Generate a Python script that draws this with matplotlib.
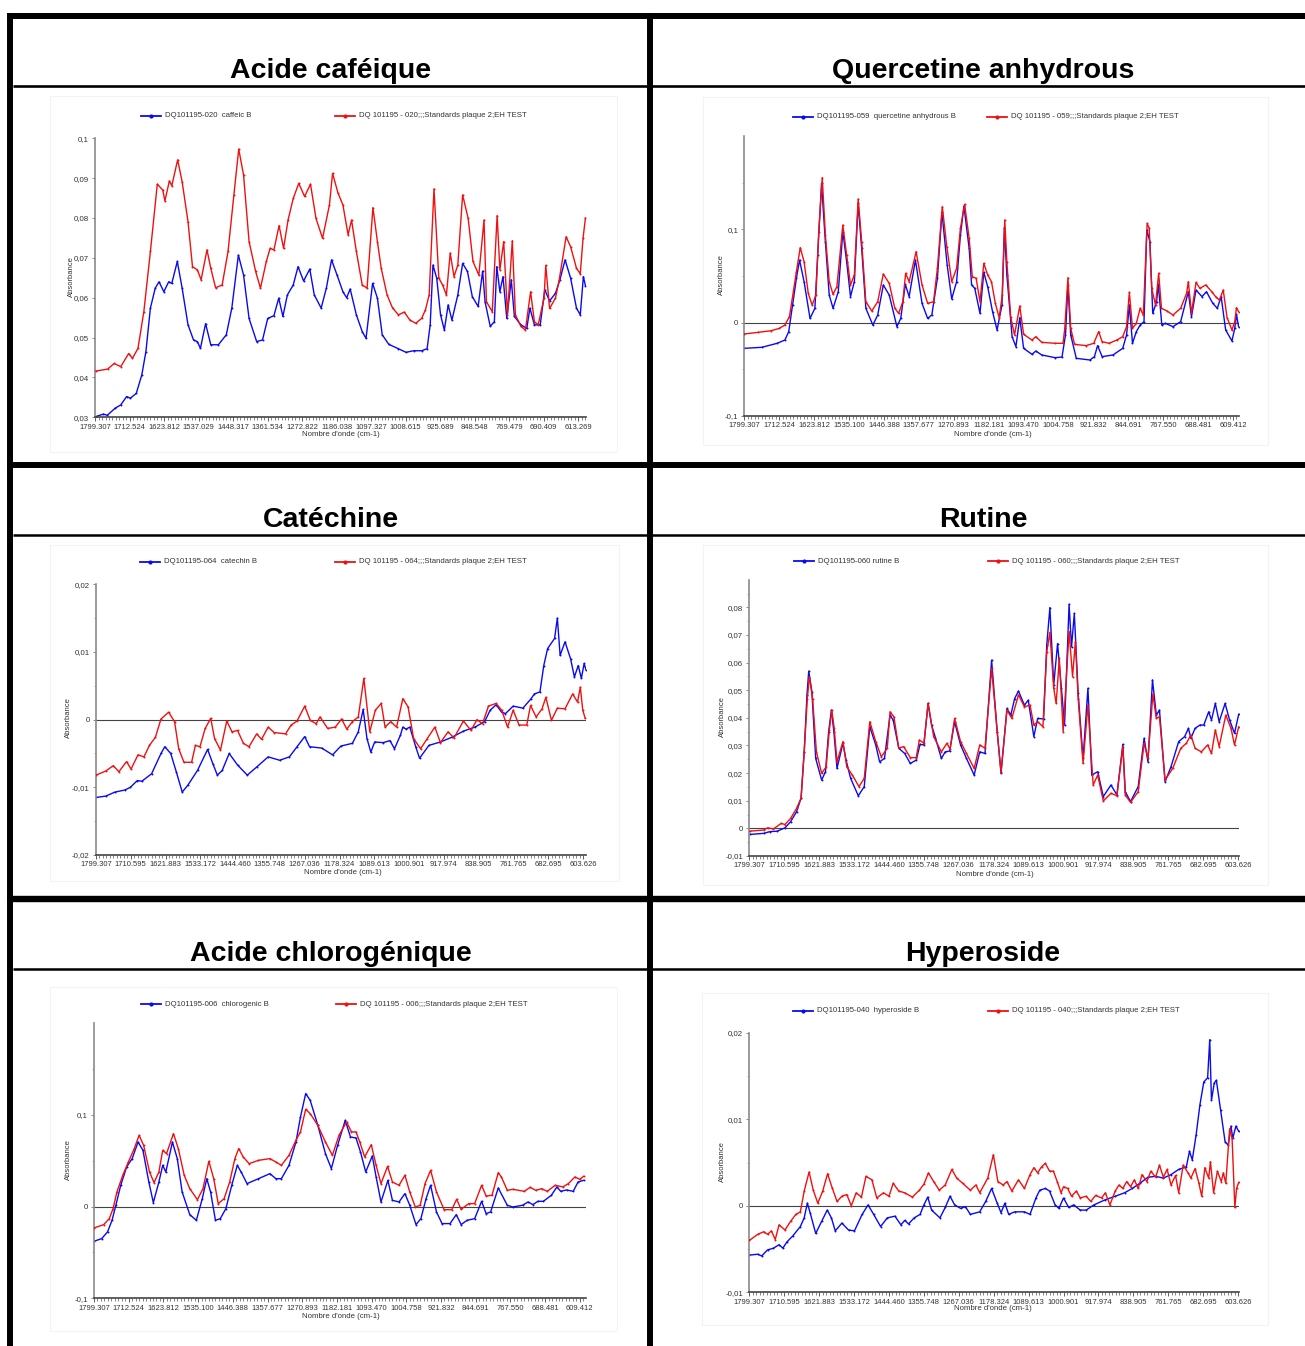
import matplotlib.pyplot as plt
from matplotlib.lines import Line2D
from matplotlib.patches import Rectangle
from matplotlib.ticker import MultipleLocator, FixedLocator

W, H = 1305, 1346
plt.rcParams['font.family'] = ['Liberation Sans', 'DejaVu Sans']

# x values are positions in label steps (0 = first tick label, 14 = last one)
ticks_a = ["1799.307", "1712.524", "1623.812", "1537.029", "1448.317", "1361.534", "1272.822", "1186.038",
           "1097.327", "1008.615", "925.689", "848.548", "769.479", "690.409", "613.269"]
ticks_b = ["1799.307", "1712.524", "1623.812", "1535.100", "1446.388", "1357.677", "1270.893", "1182.181",
           "1093.470", "1004.758", "921.832", "844.691", "767.550", "688.481", "609.412"]
ticks_c = ["1799.307", "1710.595", "1621.883", "1533.172", "1444.460", "1355.748", "1267.036", "1178.324",
           "1089.613", "1000.901", "917.974", "838.905", "761.765", "682.695", "603.626"]

# --- Acide caféique
caf_red_x = [0.02, 0.36, 0.55, 0.74, 0.97, 1.08, 1.24, 1.41, 1.60, 1.80, 1.96, 2.02, 2.15, 2.22, 2.39, 2.52, 2.69, 2.82,
             2.96, 3.07, 3.24, 3.35, 3.49, 3.68, 3.85, 4.02, 4.16, 4.30, 4.46, 4.65, 4.79, 4.96, 5.07, 5.18, 5.33, 5.46,
             5.59, 5.74, 5.90, 6.07, 6.24, 6.40, 6.59, 6.79, 6.88, 7.04, 7.18, 7.33, 7.43, 7.57, 7.74, 7.88, 8.05, 8.18,
             8.29, 8.46, 8.62, 8.79, 8.96, 9.12, 9.29, 9.46, 9.57, 9.68, 9.82, 9.96, 10.07, 10.18, 10.29, 10.40, 10.51,
             10.65, 10.81, 10.95, 11.12, 11.27, 11.34, 11.51, 11.65, 11.73, 11.84, 11.95, 12.09, 12.18, 12.34, 12.47,
             12.62, 12.73, 12.84, 13.01, 13.06, 13.17, 13.34, 13.45, 13.65, 13.78, 13.95, 14.06, 14.14, 14.21]
caf_red_y = [0.0416, 0.0421, 0.0435, 0.0427, 0.0460, 0.0448, 0.0473, 0.0565, 0.0716, 0.0885, 0.0870, 0.0843, 0.0893,
             0.0881, 0.0946, 0.0891, 0.0791, 0.0678, 0.0670, 0.0645, 0.0720, 0.0674, 0.0625, 0.0632, 0.0716, 0.0858,
             0.0973, 0.0908, 0.0741, 0.0666, 0.0624, 0.0691, 0.0724, 0.0720, 0.0781, 0.0724, 0.0795, 0.0849, 0.0887,
             0.0854, 0.0885, 0.0799, 0.0749, 0.0833, 0.0912, 0.0862, 0.0833, 0.0758, 0.0795, 0.0716, 0.0632, 0.0624,
             0.0826, 0.0741, 0.0674, 0.0607, 0.0574, 0.0557, 0.0564, 0.0544, 0.0536, 0.0548, 0.0569, 0.0607, 0.0873,
             0.0649, 0.0632, 0.0607, 0.0712, 0.0653, 0.0682, 0.0858, 0.0799, 0.0691, 0.0657, 0.0795, 0.0590, 0.0565,
             0.0806, 0.0670, 0.0741, 0.0557, 0.0743, 0.0557, 0.0528, 0.0519, 0.0615, 0.0540, 0.0532, 0.0599, 0.0681,
             0.0573, 0.0599, 0.0645, 0.0753, 0.0728, 0.0674, 0.0660, 0.0749, 0.0800]
caf_blue_x = [0.02, 0.24, 0.35, 0.58, 0.74, 0.91, 1.02, 1.19, 1.35, 1.47, 1.60, 1.74, 1.85, 1.99, 2.13, 2.22, 2.38, 2.52,
              2.69, 2.85, 2.96, 3.05, 3.20, 3.35, 3.57, 3.80, 3.96, 4.15, 4.30, 4.46, 4.68, 4.85, 5.00, 5.18, 5.32, 5.44,
              5.57, 5.74, 5.88, 6.04, 6.22, 6.35, 6.55, 6.70, 6.85, 7.01, 7.18, 7.29, 7.39, 7.57, 7.74, 7.85, 8.04, 8.18,
              8.32, 8.51, 8.79, 9.01, 9.23, 9.46, 9.62, 9.71, 9.79, 9.90, 10.01, 10.12, 10.23, 10.34, 10.51, 10.65,
              10.79, 10.93, 11.10, 11.23, 11.30, 11.45, 11.57, 11.64, 11.73, 11.82, 11.93, 12.06, 12.15, 12.34, 12.51,
              12.60, 12.73, 12.90, 13.03, 13.17, 13.34, 13.47, 13.62, 13.78, 13.95, 14.06, 14.15, 14.21]
caf_blue_y = [0.0302, 0.0308, 0.0305, 0.0323, 0.0331, 0.0352, 0.0348, 0.0360, 0.0406, 0.0465, 0.0574, 0.0624, 0.0640,
              0.0615, 0.0640, 0.0636, 0.0691, 0.0624, 0.0532, 0.0494, 0.0490, 0.0473, 0.0535, 0.0482, 0.0482, 0.0507,
              0.0574, 0.0707, 0.0657, 0.0548, 0.0490, 0.0494, 0.0548, 0.0555, 0.0599, 0.0553, 0.0607, 0.0632, 0.0678,
              0.0642, 0.0672, 0.0607, 0.0574, 0.0624, 0.0695, 0.0657, 0.0615, 0.0600, 0.0622, 0.0557, 0.0515, 0.0498,
              0.0636, 0.0599, 0.0507, 0.0483, 0.0472, 0.0463, 0.0467, 0.0467, 0.0472, 0.0532, 0.0682, 0.0649, 0.0557,
              0.0519, 0.0582, 0.0544, 0.0607, 0.0686, 0.0666, 0.0603, 0.0578, 0.0667, 0.0590, 0.0528, 0.0540, 0.0678,
              0.0615, 0.0653, 0.0548, 0.0645, 0.0553, 0.0532, 0.0523, 0.0574, 0.0532, 0.0532, 0.0620, 0.0592, 0.0611,
              0.0645, 0.0695, 0.0649, 0.0574, 0.0557, 0.0653, 0.0630]

# --- Quercetine anhydrous
que_red_x = [0.0, 0.39, 0.77, 1.00, 1.16, 1.29, 1.38, 1.49, 1.60, 1.71, 1.83, 1.94, 2.05, 2.13, 2.23, 2.32, 2.43, 2.54,
             2.65, 2.82, 2.93, 3.04, 3.15, 3.26, 3.36, 3.48, 3.65, 3.82, 3.98, 4.15, 4.31, 4.42, 4.54, 4.62, 4.72, 4.92,
             5.09, 5.25, 5.42, 5.53, 5.67, 5.80, 5.94, 6.08, 6.19, 6.31, 6.44, 6.53, 6.64, 6.75, 6.86, 6.97, 7.08, 7.19,
             7.30, 7.39, 7.46, 7.52, 7.63, 7.74, 7.89, 8.00, 8.24, 8.35, 8.52, 8.90, 9.13, 9.18, 9.27, 9.35, 9.46, 9.79,
             10.01, 10.15, 10.25, 10.45, 10.67, 10.84, 10.95, 11.03, 11.12, 11.23, 11.34, 11.43, 11.54, 11.60, 11.67,
             11.78, 11.87, 11.95, 12.11, 12.28, 12.50, 12.67, 12.72, 12.81, 12.94, 13.05, 13.22, 13.39, 13.50, 13.61,
             13.72, 13.83, 13.97, 14.05, 14.10, 14.16]
que_red_y = [-0.0121, -0.0104, -0.0086, -0.0061, -0.0025, 0.0064, 0.0279, 0.0546, 0.0804, 0.0654, 0.0314, 0.0189,
             0.0296, 0.0975, 0.1554, 0.0939, 0.0439, 0.0304, 0.0386, 0.1046, 0.0725, 0.0404, 0.0511, 0.1325, 0.0868,
             0.0225, 0.0125, 0.0225, 0.0521, 0.0421, 0.0154, 0.0100, 0.0225, 0.0529, 0.0439, 0.0761, 0.0404, 0.0207,
             0.0225, 0.0582, 0.1243, 0.0814, 0.0439, 0.0582, 0.1011, 0.1268, 0.0904, 0.0493, 0.0475, 0.0225, 0.0636,
             0.0511, 0.0439, 0.0207, 0.0054, 0.0296, 0.1100, 0.0654, 0.0064, -0.0132, 0.0179, -0.0125, -0.0186,
             -0.0150, -0.0211, -0.0221, -0.0221, -0.0061, 0.0482, -0.0061, -0.0232, -0.0246, -0.0221, -0.0096,
             -0.0204, -0.0221, -0.0186, -0.0150, -0.0043, 0.0325, -0.0061, -0.0007, 0.0154, 0.0082, 0.1064, 0.1011,
             0.0368, 0.0189, 0.0529, 0.0154, 0.0125, 0.0082, 0.0154, 0.0314, 0.0439, 0.0100, 0.0432, 0.0368, 0.0404,
             0.0332, 0.0279, 0.0243, 0.0350, 0.0054, -0.0079, 0.0011, 0.0161, 0.0118]
que_blue_x = [0.0, 0.50, 0.94, 1.16, 1.27, 1.38, 1.49, 1.58, 1.71, 1.88, 2.02, 2.10, 2.21, 2.32, 2.43, 2.54, 2.69, 2.82,
              2.93, 3.04, 3.15, 3.26, 3.36, 3.48, 3.68, 3.82, 3.98, 4.15, 4.37, 4.48, 4.61, 4.72, 4.90, 5.09, 5.25, 5.37,
              5.53, 5.66, 5.81, 5.94, 6.08, 6.19, 6.29, 6.44, 6.51, 6.60, 6.75, 6.86, 6.97, 7.11, 7.24, 7.38, 7.45, 7.52,
              7.67, 7.78, 7.89, 8.00, 8.24, 8.35, 8.52, 8.90, 9.10, 9.20, 9.27, 9.35, 9.51, 9.90, 10.03, 10.12, 10.25,
              10.56, 10.84, 10.95, 11.03, 11.12, 11.23, 11.34, 11.45, 11.53, 11.62, 11.70, 11.81, 11.86, 11.96, 12.06,
              12.28, 12.50, 12.72, 12.81, 12.94, 13.11, 13.24, 13.42, 13.55, 13.66, 13.79, 13.97, 14.05, 14.10, 14.16]
que_blue_y = [-0.0275, -0.0264, -0.0221, -0.0186, -0.0096, 0.0189, 0.0475, 0.0671, 0.0439, 0.0046, 0.0154, 0.0725,
              0.1493, 0.0868, 0.0296, 0.0154, 0.0332, 0.0975, 0.0654, 0.0279, 0.0439, 0.1279, 0.0796, 0.0154, -0.0025,
              0.0082, 0.0404, 0.0296, -0.0043, 0.0046, 0.0411, 0.0279, 0.0671, 0.0207, 0.0046, 0.0082, 0.0475, 0.1182,
              0.0618, 0.0254, 0.0439, 0.0939, 0.1250, 0.0796, 0.0404, 0.0368, 0.0100, 0.0539, 0.0386, 0.0118, -0.0079,
              0.0189, 0.1018, 0.0511, -0.0150, -0.0257, 0.0054, -0.0275, -0.0339, -0.0304, -0.0346, -0.0375, -0.0368,
              -0.0132, 0.0404, -0.0132, -0.0382, -0.0400, -0.0364, -0.0246, -0.0364, -0.0346, -0.0275, -0.0132, 0.0189,
              -0.0221, -0.0096, -0.0025, 0.0011, 0.0993, 0.0868, 0.0100, 0.0225, 0.0411, -0.0025, -0.0007, -0.0043,
              0.0011, 0.0332, 0.0064, 0.0350, 0.0279, 0.0332, 0.0207, 0.0154, 0.0279, -0.0079, -0.0196, -0.0061, 0.0089,
              -0.0043]

# --- Catéchine
cat_red_x = [0.0, 0.28, 0.50, 0.66, 0.88, 1.01, 1.21, 1.38, 1.54, 1.71, 1.87, 2.09, 2.26, 2.38, 2.53, 2.75, 2.86, 2.99,
             3.14, 3.30, 3.41, 3.58, 3.76, 3.91, 4.07, 4.24, 4.40, 4.62, 4.76, 4.95, 5.12, 5.45, 5.61, 5.78, 6.00, 6.16,
             6.33, 6.44, 6.66, 6.88, 7.06, 7.21, 7.37, 7.54, 7.70, 7.87, 8.03, 8.20, 8.31, 8.47, 8.64, 8.82, 8.97, 9.13,
             9.33, 9.52, 9.74, 9.90, 10.12, 10.29, 10.56, 10.78, 10.95, 11.11, 11.28, 11.50, 11.66, 11.83, 11.99, 12.16,
             12.38, 12.49, 12.65, 12.82, 12.93, 13.09, 13.26, 13.48, 13.70, 13.84, 13.92, 13.99, 14.06]
cat_red_y = [-0.0082, -0.0076, -0.0068, -0.0077, -0.0062, -0.0073, -0.0052, -0.0055, -0.0038, -0.0026, 0.0001, 0.0011,
             -0.0003, -0.0043, -0.0063, -0.0063, -0.0038, -0.0040, -0.0013, 0.0002, -0.0028, -0.0045, -0.0002, -0.0018,
             -0.0016, -0.0035, -0.0040, -0.0021, -0.0029, -0.0011, -0.0019, -0.0021, -0.0008, -0.0002, 0.0020, -0.0001,
             -0.0006, 0.0004, -0.0013, -0.0011, 0.0001, -0.0014, -0.0003, 0.0004, 0.0061, -0.0018, 0.0014, 0.0024,
             -0.0011, -0.0003, -0.0011, 0.0031, 0.0019, -0.0028, -0.0043, -0.0028, -0.0011, -0.0034, -0.0018, -0.0027,
             -0.0002, -0.0016, 0.0000, -0.0006, 0.0020, 0.0024, 0.0014, -0.0011, 0.0014, -0.0008, -0.0008, 0.0021,
             0.0004, 0.0016, 0.0033, -0.0001, 0.0017, 0.0016, 0.0038, 0.0026, 0.0048, 0.0014, 0.0002]
cat_blue_x = [0.0, 0.28, 0.55, 0.83, 0.99, 1.19, 1.32, 1.60, 1.87, 1.98, 2.15, 2.31, 2.48, 2.64, 2.92, 3.21, 3.36, 3.49,
              3.63, 3.83, 4.07, 4.35, 4.62, 4.95, 5.28, 5.56, 5.78, 6.00, 6.14, 6.49, 6.80, 7.04, 7.37, 7.54, 7.68, 7.79,
              7.90, 8.01, 8.25, 8.45, 8.58, 8.75, 8.82, 8.91, 9.02, 9.19, 9.30, 9.57, 9.90, 10.23, 10.56, 10.89, 11.17,
              11.33, 11.50, 11.66, 11.77, 11.99, 12.27, 12.49, 12.60, 12.76, 12.87, 12.98, 13.18, 13.26, 13.34, 13.48,
              13.64, 13.75, 13.86, 13.95, 14.03, 14.08]
cat_blue_y = [-0.0115, -0.0113, -0.0107, -0.0104, -0.0100, -0.0090, -0.0091, -0.0080, -0.0050, -0.0040, -0.0050,
              -0.0077, -0.0107, -0.0097, -0.0075, -0.0044, -0.0065, -0.0082, -0.0075, -0.0050, -0.0067, -0.0082,
              -0.0070, -0.0055, -0.0060, -0.0055, -0.0040, -0.0025, -0.0040, -0.0042, -0.0052, -0.0039, -0.0035,
              -0.0018, 0.0015, -0.0028, -0.0048, -0.0033, -0.0034, -0.0031, -0.0043, -0.0023, -0.0011, -0.0014,
              -0.0011, -0.0040, -0.0057, -0.0038, -0.0033, -0.0026, -0.0017, -0.0011, -0.0003, 0.0014, 0.0022, 0.0011,
              0.0009, 0.0020, 0.0017, 0.0030, 0.0038, 0.0041, 0.0080, 0.0105, 0.0120, 0.0150, 0.0095, 0.0115, 0.0090,
              0.0063, 0.0080, 0.0061, 0.0083, 0.0074]

# --- Rutine
rut_blue_x = [0.02, 0.41, 0.58, 0.80, 1.02, 1.18, 1.35, 1.48, 1.57, 1.65, 1.70, 1.79, 1.90, 2.07, 2.18, 2.27, 2.35, 2.42,
              2.51, 2.68, 2.77, 2.90, 3.12, 3.29, 3.45, 3.62, 3.73, 3.87, 4.03, 4.12, 4.28, 4.45, 4.61, 4.78, 4.89, 5.00,
              5.12, 5.22, 5.33, 5.50, 5.61, 5.74, 5.88, 6.05, 6.22, 6.44, 6.60, 6.75, 6.94, 7.10, 7.21, 7.38, 7.49, 7.60,
              7.71, 7.88, 7.99, 8.15, 8.26, 8.43, 8.52, 8.61, 8.72, 8.83, 8.94, 9.03, 9.16, 9.23, 9.31, 9.42, 9.56, 9.70,
              9.81, 9.98, 10.14, 10.36, 10.53, 10.70, 10.77, 10.92, 11.14, 11.31, 11.42, 11.55, 11.66, 11.75, 11.91,
              12.08, 12.30, 12.47, 12.58, 12.65, 12.77, 12.91, 13.02, 13.16, 13.24, 13.35, 13.46, 13.63, 13.76, 13.90,
              14.02]
rut_blue_y = [-0.0022, -0.0018, -0.0012, -0.0010, 0.0002, 0.0024, 0.0060, 0.0109, 0.0277, 0.0483, 0.0569, 0.0495,
              0.0253, 0.0175, 0.0205, 0.0350, 0.0428, 0.0350, 0.0217, 0.0308, 0.0247, 0.0181, 0.0118, 0.0151, 0.0368,
              0.0302, 0.0241, 0.0253, 0.0410, 0.0392, 0.0290, 0.0271, 0.0235, 0.0247, 0.0304, 0.0302, 0.0452, 0.0374,
              0.0328, 0.0253, 0.0277, 0.0280, 0.0386, 0.0302, 0.0253, 0.0193, 0.0277, 0.0271, 0.0609, 0.0350, 0.0199,
              0.0434, 0.0410, 0.0470, 0.0497, 0.0446, 0.0464, 0.0332, 0.0398, 0.0396, 0.0663, 0.0799, 0.0519, 0.0669,
              0.0507, 0.0374, 0.0811, 0.0657, 0.0778, 0.0489, 0.0253, 0.0507, 0.0193, 0.0205, 0.0115, 0.0157, 0.0121,
              0.0304, 0.0133, 0.0097, 0.0151, 0.0326, 0.0241, 0.0537, 0.0410, 0.0428, 0.0169, 0.0223, 0.0314, 0.0332,
              0.0362, 0.0326, 0.0362, 0.0374, 0.0374, 0.0422, 0.0392, 0.0452, 0.0386, 0.0452, 0.0392, 0.0344, 0.0413]
rut_red_x = [0.02, 0.41, 0.52, 0.69, 0.91, 1.02, 1.18, 1.35, 1.48, 1.57, 1.66, 1.72, 1.81, 1.92, 2.07, 2.20, 2.29, 2.36,
             2.43, 2.51, 2.68, 2.79, 2.95, 3.14, 3.29, 3.45, 3.62, 3.78, 3.95, 4.03, 4.14, 4.28, 4.42, 4.61, 4.78, 4.87,
             5.00, 5.12, 5.28, 5.50, 5.66, 5.75, 5.88, 6.05, 6.22, 6.44, 6.60, 6.75, 6.94, 7.10, 7.21, 7.38, 7.52, 7.71,
             7.88, 8.04, 8.15, 8.26, 8.41, 8.52, 8.61, 8.72, 8.79, 8.88, 8.99, 9.16, 9.26, 9.34, 9.42, 9.56, 9.70, 9.85,
             9.98, 10.14, 10.36, 10.53, 10.70, 10.77, 10.92, 11.14, 11.31, 11.42, 11.56, 11.66, 11.75, 11.91, 12.13,
             12.36, 12.52, 12.65, 12.77, 12.95, 13.13, 13.24, 13.35, 13.46, 13.65, 13.80, 13.90, 14.02]
rut_red_y = [-0.0010, -0.0006, 0.0002, -0.0002, 0.0018, 0.0014, 0.0036, 0.0072, 0.0109, 0.0277, 0.0470, 0.0549, 0.0470,
             0.0277, 0.0199, 0.0223, 0.0356, 0.0428, 0.0362, 0.0241, 0.0314, 0.0223, 0.0193, 0.0151, 0.0181, 0.0386,
             0.0314, 0.0259, 0.0290, 0.0422, 0.0404, 0.0290, 0.0296, 0.0256, 0.0256, 0.0320, 0.0308, 0.0452, 0.0332,
             0.0277, 0.0308, 0.0287, 0.0398, 0.0314, 0.0271, 0.0217, 0.0302, 0.0290, 0.0579, 0.0350, 0.0205, 0.0428,
             0.0398, 0.0483, 0.0440, 0.0446, 0.0374, 0.0386, 0.0368, 0.0639, 0.0709, 0.0507, 0.0452, 0.0615, 0.0350,
             0.0712, 0.0549, 0.0676, 0.0470, 0.0235, 0.0446, 0.0157, 0.0193, 0.0099, 0.0127, 0.0118, 0.0296, 0.0121,
             0.0094, 0.0133, 0.0308, 0.0253, 0.0485, 0.0398, 0.0404, 0.0175, 0.0217, 0.0290, 0.0308, 0.0338, 0.0290,
             0.0277, 0.0302, 0.0271, 0.0356, 0.0296, 0.0410, 0.0362, 0.0302, 0.0368]

# --- Acide chlorogénique
chl_red_x = [0.0, 0.28, 0.44, 0.55, 0.66, 0.83, 0.99, 1.16, 1.30, 1.43, 1.60, 1.73, 1.87, 1.98, 2.09, 2.29, 2.43, 2.60,
             2.76, 2.98, 3.14, 3.31, 3.45, 3.58, 3.75, 3.91, 4.06, 4.17, 4.30, 4.47, 4.74, 5.07, 5.24, 5.40, 5.62, 5.82,
             5.95, 6.10, 6.23, 6.45, 6.67, 6.87, 7.06, 7.28, 7.42, 7.55, 7.66, 7.80, 7.99, 8.13, 8.27, 8.46, 8.60, 8.79,
             8.96, 9.10, 9.26, 9.40, 9.54, 9.70, 9.87, 10.09, 10.31, 10.45, 10.58, 10.80, 10.97, 11.17, 11.30, 11.47,
             11.65, 11.74, 11.91, 12.07, 12.40, 12.57, 12.73, 12.90, 13.06, 13.29, 13.51, 13.67, 13.86, 14.00, 14.11]
chl_red_y = [-0.0233, -0.0196, -0.0131, -0.0022, 0.0160, 0.0342, 0.0487, 0.0633, 0.0778, 0.0669, 0.0378, 0.0262,
             0.0378, 0.0615, 0.0578, 0.0796, 0.0633, 0.0342, 0.0196, 0.0076, 0.0196, 0.0495, 0.0305, 0.0033, 0.0087,
             0.0269, 0.0524, 0.0633, 0.0542, 0.0469, 0.0505, 0.0524, 0.0487, 0.0451, 0.0560, 0.0724, 0.0815, 0.1062,
             0.1015, 0.0887, 0.0705, 0.0560, 0.0778, 0.0924, 0.0815, 0.0815, 0.0705, 0.0542, 0.0676, 0.0451, 0.0251,
             0.0440, 0.0269, 0.0233, 0.0342, 0.0160, -0.0004, 0.0015, 0.0251, 0.0396, 0.0160, -0.0033, -0.0033, 0.0080,
             -0.0029, 0.0033, 0.0033, 0.0233, 0.0116, 0.0124, 0.0371, 0.0324, 0.0178, 0.0189, 0.0167, 0.0211, 0.0178,
             0.0196, 0.0167, 0.0233, 0.0215, 0.0251, 0.0324, 0.0298, 0.0331]
chl_blue_x = [0.0, 0.22, 0.39, 0.52, 0.63, 0.77, 0.94, 1.10, 1.27, 1.41, 1.58, 1.71, 1.87, 1.98, 2.07, 2.26, 2.40, 2.54,
              2.76, 2.95, 3.12, 3.25, 3.36, 3.50, 3.64, 3.80, 3.97, 4.13, 4.24, 4.41, 4.74, 5.07, 5.24, 5.40, 5.62, 5.82,
              5.95, 6.10, 6.23, 6.45, 6.67, 6.84, 7.02, 7.24, 7.39, 7.55, 7.68, 7.83, 8.02, 8.13, 8.27, 8.47, 8.60, 8.79,
              8.96, 9.10, 9.28, 9.42, 9.57, 9.70, 9.87, 10.03, 10.26, 10.44, 10.58, 10.75, 10.97, 11.17, 11.30, 11.43,
              11.65, 11.91, 12.07, 12.35, 12.51, 12.65, 12.79, 12.95, 13.18, 13.34, 13.45, 13.62, 13.81, 13.95, 14.11]
chl_blue_y = [-0.0378, -0.0349, -0.0276, -0.0149, 0.0015, 0.0233, 0.0433, 0.0524, 0.0705, 0.0615, 0.0269, 0.0044,
              0.0269, 0.0451, 0.0378, 0.0705, 0.0524, 0.0160, -0.0087, -0.0149, 0.0087, 0.0305, 0.0160, -0.0149,
              -0.0131, -0.0022, 0.0233, 0.0451, 0.0378, 0.0251, 0.0305, 0.0360, 0.0305, 0.0305, 0.0451, 0.0705, 0.0978,
              0.1233, 0.1160, 0.0887, 0.0578, 0.0415, 0.0669, 0.0942, 0.0760, 0.0749, 0.0596, 0.0378, 0.0553, 0.0324,
              0.0051, 0.0287, 0.0069, 0.0051, 0.0142, 0.0015, -0.0196, -0.0131, 0.0087, 0.0233, -0.0058, -0.0185,
              -0.0185, -0.0087, -0.0196, -0.0149, -0.0131, 0.0058, -0.0076, -0.0058, 0.0204, 0.0015, -0.0004, 0.0015,
              0.0051, 0.0022, 0.0058, 0.0058, 0.0124, 0.0215, 0.0167, 0.0182, 0.0167, 0.0269, 0.0287]

# --- Hyperoside
hyp_red_x = [0.0, 0.24, 0.41, 0.52, 0.63, 0.74, 0.85, 1.02, 1.18, 1.33, 1.46, 1.57, 1.71, 1.83, 1.96, 2.10, 2.24, 2.37,
             2.51, 2.65, 2.79, 2.92, 3.06, 3.21, 3.34, 3.51, 3.65, 3.84, 4.00, 4.12, 4.28, 4.45, 4.67, 4.87, 5.00, 5.13,
             5.28, 5.44, 5.61, 5.80, 5.94, 6.11, 6.33, 6.49, 6.60, 6.83, 6.99, 7.12, 7.27, 7.38, 7.52, 7.71, 7.88, 8.04,
             8.15, 8.26, 8.37, 8.48, 8.60, 8.71, 8.82, 8.93, 9.00, 9.12, 9.23, 9.37, 9.48, 9.65, 9.78, 9.92, 10.09,
             10.20, 10.33, 10.48, 10.59, 10.70, 10.81, 10.92, 11.03, 11.14, 11.25, 11.39, 11.50, 11.64, 11.75, 11.86,
             11.97, 12.08, 12.21, 12.30, 12.43, 12.57, 12.65, 12.77, 12.88, 12.96, 13.05, 13.16, 13.21, 13.30, 13.41,
             13.52, 13.58, 13.65, 13.76, 13.83, 13.91, 13.96, 14.02]
hyp_red_y = [-0.0040, -0.0033, -0.0030, -0.0033, -0.0029, -0.0039, -0.0022, -0.0028, -0.0018, -0.0010, -0.0007,
             0.0017, 0.0039, 0.0018, 0.0003, 0.0017, 0.0037, 0.0021, 0.0005, 0.0011, 0.0013, 0.0000, 0.0015, 0.0010,
             0.0034, 0.0030, 0.0009, 0.0015, 0.0011, 0.0026, 0.0017, 0.0015, 0.0010, 0.0018, 0.0025, 0.0038, 0.0028,
             0.0018, 0.0024, 0.0042, 0.0032, 0.0026, 0.0018, 0.0024, 0.0015, 0.0032, 0.0059, 0.0028, 0.0024, 0.0028,
             0.0017, 0.0030, 0.0020, 0.0036, 0.0044, 0.0038, 0.0045, 0.0049, 0.0040, 0.0040, 0.0028, 0.0015, 0.0022,
             0.0020, 0.0011, 0.0017, 0.0009, 0.0011, 0.0005, 0.0012, 0.0009, 0.0015, 0.0001, 0.0017, 0.0024, 0.0020,
             0.0028, 0.0022, 0.0030, 0.0020, 0.0036, 0.0028, 0.0040, 0.0033, 0.0047, 0.0033, 0.0042, 0.0024, 0.0035,
             0.0015, 0.0047, 0.0038, 0.0032, 0.0043, 0.0026, 0.0011, 0.0044, 0.0032, 0.0051, 0.0015, 0.0040, 0.0028,
             0.0038, 0.0026, 0.0089, 0.0078, -0.0002, 0.0020, 0.0027]
hyp_blue_x = [0.0, 0.24, 0.35, 0.52, 0.69, 0.85, 0.96, 1.07, 1.24, 1.46, 1.57, 1.66, 1.74, 1.90, 2.07, 2.23, 2.35, 2.46,
              2.65, 2.84, 3.01, 3.23, 3.40, 3.56, 3.76, 3.95, 4.17, 4.34, 4.45, 4.56, 4.72, 4.89, 5.00, 5.11, 5.22, 5.46,
              5.61, 5.75, 5.88, 6.05, 6.19, 6.33, 6.60, 6.77, 6.94, 7.10, 7.21, 7.32, 7.43, 7.60, 7.88, 8.04, 8.21, 8.32,
              8.48, 8.60, 8.76, 8.87, 9.00, 9.15, 9.29, 9.48, 9.65, 9.87, 10.20, 10.48, 10.75, 10.97, 11.19, 11.42,
              11.64, 11.86, 12.08, 12.30, 12.52, 12.61, 12.69, 12.80, 12.91, 13.02, 13.13, 13.19, 13.24, 13.32, 13.38,
              13.50, 13.63, 13.72, 13.80, 13.85, 13.94, 14.02]
hyp_blue_y = [-0.0057, -0.0056, -0.0058, -0.0051, -0.0049, -0.0045, -0.0049, -0.0042, -0.0035, -0.0024, -0.0014,
              0.0003, -0.0008, -0.0032, -0.0018, -0.0005, -0.0014, -0.0029, -0.0020, -0.0028, -0.0029, -0.0010,
              0.0001, -0.0010, -0.0024, -0.0014, -0.0012, -0.0022, -0.0017, -0.0021, -0.0014, -0.0010, 0.0001, 0.0010,
              -0.0005, -0.0014, -0.0002, 0.0011, 0.0001, -0.0003, -0.0001, -0.0010, -0.0007, 0.0005, 0.0020, 0.0003,
              -0.0008, 0.0003, -0.0010, -0.0007, -0.0007, -0.0010, 0.0009, 0.0018, 0.0020, 0.0017, 0.0001, -0.0003,
              0.0009, -0.0002, 0.0001, -0.0005, -0.0005, 0.0001, 0.0007, 0.0011, 0.0015, 0.0020, 0.0026, 0.0033,
              0.0034, 0.0032, 0.0036, 0.0042, 0.0045, 0.0063, 0.0053, 0.0082, 0.0117, 0.0143, 0.0148, 0.0192, 0.0122,
              0.0142, 0.0145, 0.0111, 0.0074, 0.0070, 0.0092, 0.0078, 0.0092, 0.0086]

BLUE = '#0a0af0'
RED = '#f01010'

fig = plt.figure(figsize=(W / 100, H / 100), dpi=100)


def fx(px):
    return px / W


def fy(py):
    return 1 - py / H


def hline(x1, x2, y, lw):
    fig.add_artist(Line2D([fx(x1), fx(x2)], [fy(y), fy(y)], color='black', lw=lw, solid_capstyle='butt'))


def vline(x, y1, y2, lw):
    fig.add_artist(Line2D([fx(x), fx(x)], [fy(y1), fy(y2)], color='black', lw=lw, solid_capstyle='butt'))


def fmt(v):
    if abs(v) < 1e-9:
        return "0"
    return ("%g" % v).replace('.', ',')


def panel(frame, x0, step, smax, ytop, ybot, ylim, yticks, yminor, xlabels, blue, red, zero, legend, titles):
    # faint frame of the pasted chart image
    fx0, fy0, fx1, fy1 = frame
    fig.add_artist(Rectangle((fx(fx0), fy(fy1)), fx(fx1) - fx(fx0), fy(fy0) - fy(fy1),
                             transform=fig.transFigure, fill=False, ec='#f3f3f3', lw=0.8))
    ax = fig.add_axes([fx(x0), fy(ybot), step * smax / W, (ybot - ytop) / H])
    ax.set_xlim(0, smax)
    ax.set_ylim(*ylim)
    for s in ['top', 'right']:
        ax.spines[s].set_visible(False)
    ax.spines['left'].set_color('#8a8a8a')
    ax.spines['left'].set_linewidth(1.2)
    ax.spines['bottom'].set_color('#444444')
    ax.spines['bottom'].set_linewidth(1.2)
    ax.set_xticks(range(len(xlabels)))
    ax.set_xticklabels(xlabels)
    ax.xaxis.set_minor_locator(MultipleLocator(0.1))
    ax.tick_params(axis='x', which='major', length=3, width=0.6, color='#444444', pad=1.5,
                   labelsize=5.5, labelcolor='#333333')
    ax.tick_params(axis='x', which='minor', length=2.5, width=0.5, color='#555555')
    ax.set_yticks(yticks)
    ax.set_yticklabels([fmt(v) for v in yticks])
    ax.yaxis.set_minor_locator(FixedLocator(yminor))
    ax.tick_params(axis='y', which='major', length=2.5, width=0.6, color='#777777', pad=2,
                   labelsize=5.7, labelcolor='#333333')
    ax.tick_params(axis='y', which='minor', length=1.5, width=0.5, color='#999999')
    if zero:
        ax.axhline(0, color='#444444', lw=0.8, zorder=1)
    ax.plot(blue[0], blue[1], color=BLUE, lw=1.0, marker='o', ms=1.4, mew=0, zorder=2)
    ax.plot(red[0], red[1], color=RED, lw=1.0, marker='o', ms=1.4, mew=0, zorder=3)
    ax.set_facecolor('none')
    # axis titles
    (axx, axy), (axlx, axly) = titles
    fig.text(fx(axx), fy(axy), "Absorbance", rotation=90, ha='center', va='center', fontsize=5.5, color='#333333')
    fig.text(fx(axlx), fy(axly), "Nombre d'onde (cm-1)", ha='center', va='center', fontsize=5.6, color='#333333')
    # legend
    ly, bx, rx, btxt, rtxt = legend
    for xs, col, txt in [(bx, BLUE, btxt), (rx, RED, rtxt)]:
        fig.add_artist(Line2D([fx(xs), fx(xs + 20)], [fy(ly), fy(ly)], color=col, lw=1.3))
        fig.add_artist(Line2D([fx(xs + 10)], [fy(ly)], color=col, marker='o', ms=3, mew=0))
        fig.text(fx(xs + 24), fy(ly), txt, ha='left', va='center', fontsize=5.6, color='#333333')
    return ax


# table grid
hline(7, W, 16, 4.3)
vline(10, 13, H, 4.3)
vline(650, 13, H, 4.3)
hline(7, W, 465, 4.3)
hline(7, W, 898.5, 4.6)
hline(13, W, 86, 1.9)
hline(13, W, 535.5, 1.8)
hline(13, W, 969, 1.8)

for txt, x, y in [("Acide caféique", 331, 78), ("Quercetine anhydrous", 983, 78),
                  ("Catéchine", 331, 527), ("Rutine", 983, 527),
                  ("Acide chlorogénique", 331, 961), ("Hyperoside", 983, 961)]:
    fig.text(fx(x), fy(y), txt, ha='center', va='baseline', fontsize=20.5, fontweight='bold', color='black')

panel((50, 96, 617, 452), 95.2, 34.5, 14.23, 138.3, 417.3, (0.03, 0.1),
      [0.03, 0.04, 0.05, 0.06, 0.07, 0.08, 0.09, 0.1], [], ticks_a,
      (caf_blue_x, caf_blue_y), (caf_red_x, caf_red_y), False,
      (115.7, 141, 335, "DQ101195-020  caffeic B", "DQ 101195 - 020;;;Standards plaque 2;EH TEST"),
      ((71, 277), (341, 435)))

panel((703, 97, 1268, 445), 744.4, 34.9, 14.16, 136.0, 416.0, (-0.1, 0.2),
      [-0.1, 0, 0.1], [-0.05, 0.05, 0.15], ticks_b,
      (que_blue_x, que_blue_y), (que_red_x, que_red_y), True,
      (116.7, 793, 987, "DQ101195-059  quercetine anhydrous B", "DQ 101195 - 059;;;Standards plaque 2;EH TEST"),
      ((721, 275), (993, 434)))

panel((50, 545, 619, 881), 95.9, 34.8, 14.08, 584.3, 855.0, (-0.02, 0.02),
      [-0.02, -0.01, 0, 0.01, 0.02], [-0.015, -0.005, 0.005, 0.015], ticks_c,
      (cat_blue_x, cat_blue_y), (cat_red_x, cat_red_y), True,
      (561.7, 140, 335, "DQ101195-064  catechin B", "DQ 101195 - 064;;;Standards plaque 2;EH TEST"),
      ((68, 718), (343, 873)))

panel((703, 545, 1268, 885), 749.4, 34.9, 14.03, 579.7, 856.0, (-0.01, 0.09),
      [-0.01, 0, 0.01, 0.02, 0.03, 0.04, 0.05, 0.06, 0.07, 0.08],
      [-0.005, 0.005, 0.015, 0.025, 0.035, 0.045, 0.055, 0.065, 0.075, 0.085], ticks_c,
      (rut_blue_x, rut_blue_y), (rut_red_x, rut_red_y), True,
      (561.0, 794, 988, "DQ101195-060 rutine B", "DQ 101195 - 060;;;Standards plaque 2;EH TEST"),
      ((722, 717), (995, 874)))

panel((50, 987, 617, 1331), 94.0, 34.7, 14.17, 1023.3, 1298.3, (-0.1, 0.2),
      [-0.1, 0, 0.1], [-0.05, 0.05, 0.15], ticks_b,
      (chl_blue_x, chl_blue_y), (chl_red_x, chl_red_y), True,
      (1004.0, 141, 336, "DQ101195-006  chlorogenic B", "DQ 101195 - 006;;;Standards plaque 2;EH TEST"),
      ((68, 1160), (341, 1317)))

panel((702, 993, 1268, 1325), 749.4, 34.9, 14.03, 1032.7, 1292.3, (-0.01, 0.02),
      [-0.01, 0, 0.01, 0.02], [-0.005, 0.005, 0.015], ticks_c,
      (hyp_blue_x, hyp_blue_y), (hyp_red_x, hyp_red_y), True,
      (1011.0, 793, 988, "DQ101195-040  hyperoside B", "DQ 101195 - 040;;;Standards plaque 2;EH TEST"),
      ((722, 1162), (993, 1309)))

fig.savefig("out.png", dpi=100)
